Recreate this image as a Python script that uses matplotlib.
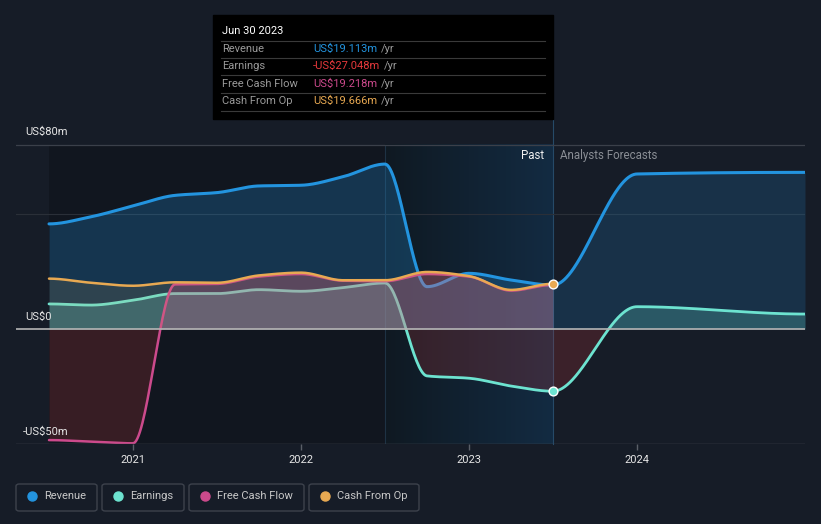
import numpy as np
import matplotlib
matplotlib.use("Agg")
import matplotlib.pyplot as plt
from matplotlib.patches import Rectangle, FancyBboxPatch
from matplotlib.lines import Line2D

plt.rcParams['font.family'] = ['Roboto', 'DejaVu Sans']

# quarterly history (decimal years)
hist_t = [2020.5, 2020.75, 2021.0, 2021.25, 2021.5, 2021.75, 2022.0,
          2022.25, 2022.5, 2022.75, 2023.0, 2023.25, 2023.5]
revenue = [45.7, 48.8, 53.5, 58.1, 59.3, 62.2, 62.5, 66.2, 71.7, 18.4, 24.2, 21.3, 19.113]
earnings = [10.9, 10.4, 12.5, 15.4, 15.4, 17.1, 16.4, 18.0, 20.0, -20.4, -21.4, -24.8, -27.048]
fcf = [-48.3, -49.0, -49.7, 19.4, 19.6, 22.8, 23.9, 21.0, 20.8, 23.9, 22.8, 16.7, 19.218]
cfo = [21.9, 20.1, 18.8, 20.3, 20.1, 23.3, 24.5, 21.2, 21.2, 24.8, 23.0, 17.0, 19.666]

# analyst forecasts
fc_t = [2023.5, 2024.0, 2025.0]
revenue_fc = [19.113, 67.4, 68.1]
earnings_fc = [-27.048, 9.7, 6.5]

BG = '#161c27'
C_REV = '#2394df'
C_EARN = '#6de3d0'
C_FCF = '#cc4a8c'
C_CFO = '#e8a952'
C_NEG = '#d23a3a'


def pchip(x, y, n=400):
    # monotone cubic, flat at both ends
    x = np.asarray(x, float)
    y = np.asarray(y, float)
    h = np.diff(x)
    d = np.diff(y) / h
    m = np.zeros_like(y)
    for i in range(1, len(y) - 1):
        if d[i - 1] * d[i] > 0:
            w1 = 2 * h[i] + h[i - 1]
            w2 = h[i] + 2 * h[i - 1]
            m[i] = (w1 + w2) / (w1 / d[i - 1] + w2 / d[i])
    xs = np.linspace(x[0], x[-1], n)
    idx = np.clip(np.searchsorted(x, xs) - 1, 0, len(x) - 2)
    t = (xs - x[idx]) / h[idx]
    h00 = 2 * t**3 - 3 * t**2 + 1
    h10 = t**3 - 2 * t**2 + t
    h01 = -2 * t**3 + 3 * t**2
    h11 = t**3 - t**2
    ys = h00 * y[idx] + h10 * h[idx] * m[idx] + h01 * y[idx + 1] + h11 * h[idx] * m[idx + 1]
    return xs, ys


W, H = 821, 524
fig = plt.figure(figsize=(W / 100, H / 100), dpi=100, facecolor=BG)


def fx(px):
    return px / W


def fy(py):
    return 1 - py / H


ax = fig.add_axes([fx(16), fy(444), fx(805) - fx(16), fy(120) - fy(444)])
ax.set_facecolor(BG)
ax.set_xlim(2021 + (16 - 133) / 168, 2025.0)
ax.set_ylim(-50, (329 - 120) / 2.3)
for s in ax.spines.values():
    s.set_visible(False)

# darker history area and highlighted last year
ax.fill_between([2020.5, 2022.5], -50, 80, color='#0f131b', alpha=0.6, lw=0, zorder=0)
grad = np.linspace(0, 1, 256).reshape(1, -1)
ax.imshow(grad, extent=[2022.5, 2023.5, -50, 80], aspect='auto',
          cmap=matplotlib.colors.LinearSegmentedColormap.from_list('p', ['#0f1922', '#132b42']),
          zorder=0.5)
ax.plot([2022.5, 2022.5], [-50, 80], color='#1e3244', lw=0.8, zorder=1)
ax.plot([2023.5, 2023.5], [-50, 90.87], color='#264a68', lw=0.8, zorder=1, clip_on=False)

# grid lines
ax.axhline(80, color='#3b404a', lw=0.9, zorder=1)
ax.axhline(50, color='#2a2f38', lw=0.8, zorder=1)
ax.axhline(-50, color='#4a4f58', lw=1.0, zorder=6)


def series(t, v, color, z, lw=2.2, a=0.22):
    xs, ys = pchip(t, v)
    ax.fill_between(xs, ys, 0, where=ys >= 0, color=color, alpha=a, lw=0, zorder=z, interpolate=True)
    ax.fill_between(xs, ys, 0, where=ys <= 0, color=C_NEG, alpha=0.2, lw=0, zorder=z, interpolate=True)
    ax.plot(xs, ys, color=color, lw=lw, zorder=z + 0.1, solid_capstyle='round')


series(hist_t, revenue, C_REV, 2, a=0.25)
series(fc_t, revenue_fc, C_REV, 2, a=0.18)
series(hist_t, earnings, C_EARN, 2.5, lw=2.0, a=0.25)
series(fc_t, earnings_fc, C_EARN, 2.5, lw=2.0, a=0.22)
series(hist_t, fcf, C_FCF, 3, lw=1.8, a=0.28)
series(hist_t, cfo, C_CFO, 3.5, lw=1.8, a=0.12)

ax.axhline(0, color='#b5b5b5', lw=1.2, zorder=5)

ax.scatter([2023.5], [cfo[-1]], s=40, color=C_CFO, edgecolor='white', lw=1, zorder=8)
ax.scatter([2023.5], [earnings[-1]], s=40, color=C_EARN, edgecolor='white', lw=1, zorder=8)

# axes labels
ax.set_yticks([])
ax.set_xticks([2021, 2022, 2023, 2024])
ax.set_xticklabels(['2021', '2022', '2023', '2024'])
ax.tick_params(axis='x', colors='#5a5f68', labelcolor='#e6e6e6', length=4, width=1, labelsize=8, pad=4)

txt = dict(color='#e6e6e6', fontsize=8, transform=fig.transFigure)
fig.text(fx(25), fy(132), 'US$80m', va='center', **txt)
fig.text(fx(25), fy(317), 'US$0', va='center', **txt)
fig.text(fx(23), fy(432), '-US$50m', va='center', **txt)

fig.text(fx(544), fy(156), 'Past', ha='right', va='center', color='#f0f0f0', fontsize=8.3)
fig.text(fx(560), fy(156), 'Analysts Forecasts', ha='left', va='center', color='#8a8e95', fontsize=8.3)

# tooltip
fig.patches.append(Rectangle((fx(213), fy(119)), fx(553) - fx(213), fy(15) - fy(119),
                             transform=fig.transFigure, color='#000000', zorder=10))
fig.text(fx(222), fy(31), 'Jun 30 2023', color='#ffffff', fontsize=8, va='center', zorder=11)
rows = [('Revenue', 'US$19.113m', C_REV, 49),
        ('Earnings', '-US$27.048m', '#e8393c', 66),
        ('Free Cash Flow', 'US$19.218m', C_FCF, 84),
        ('Cash From Op', 'US$19.666m', C_CFO, 101)]
for yy in [41, 58, 75, 93, 111]:
    fig.add_artist(Line2D([fx(221), fx(545)], [fy(yy), fy(yy)], color='#3a3a3a', lw=0.8, zorder=11))
for name, val, col, yy in rows:
    fig.text(fx(222), fy(yy), name, color='#9a9a9a', fontsize=8, va='center', zorder=11)
    t = fig.text(fx(313), fy(yy), val, color=col, fontsize=8, va='center', zorder=11)
    fig.canvas.draw()
    bb = t.get_window_extent()
    fig.text(bb.x1 / W + fx(4), fy(yy), '/yr', color='#9a9a9a', fontsize=8, va='center', zorder=11)

# legend boxes
legend = [('Revenue', C_REV, 16, 97), ('Earnings', C_EARN, 102, 184),
          ('Free Cash Flow', C_FCF, 189, 304), ('Cash From Op', C_CFO, 309, 419)]
for name, col, xa, xb in legend:
    fig.patches.append(FancyBboxPatch((fx(xa), fy(511)), fx(xb) - fx(xa), fy(484) - fy(511),
                                      boxstyle='round,pad=0,rounding_size=0.004',
                                      transform=fig.transFigure, fc='none', ec='#3d424c', lw=1))
    fig.add_artist(Line2D([fx(xa + 16)], [fy(496)], marker='o', ms=6.5, color=col, lw=0))
    fig.text(fx(xa + 28), fy(496), name, color='#c8c8c8', fontsize=8, va='center')

fig.savefig('out.png', dpi=100, facecolor=BG)
